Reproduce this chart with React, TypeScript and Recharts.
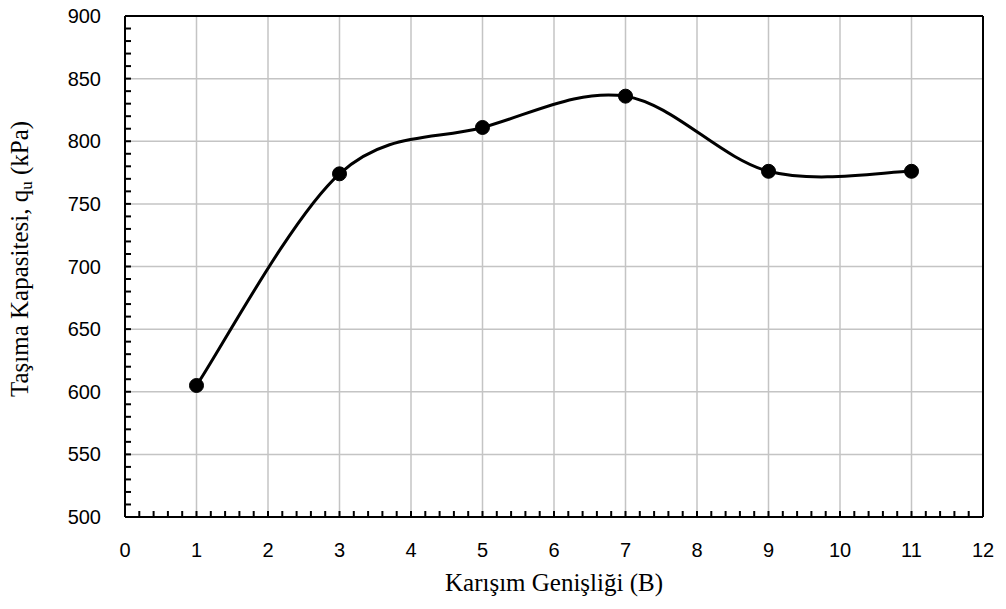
import React from 'react';
import { LineChart, Line, XAxis, YAxis, ReferenceLine } from 'recharts';

const widths = [1, 3, 5, 7, 9, 11];
const capacity = [605, 774, 811, 836, 776, 776];
const xMajor = [0, 1, 2, 3, 4, 5, 6, 7, 8, 9, 10, 11, 12];
const yMajor = [500, 550, 600, 650, 700, 750, 800, 850, 900];
const xMinor = Array.from({ length: 61 }, (_, i) => Math.round(i * 2) / 10);
const yMinor = Array.from({ length: 41 }, (_, i) => 500 + i * 10);

const data = widths.map((b, i) => ({ b, q: capacity[i] }));

const sansFont = '"Liberation Sans", Arial, sans-serif';
const serifFont = '"Liberation Serif", "Times New Roman", serif';

// Excel-like smoothed line (Catmull-Rom through every point)
const smoothCurve: any = (context: any) => {
  let pts: number[][] = [];
  return {
    areaStart() {},
    areaEnd() {},
    lineStart() {
      pts = [];
    },
    point(x: number, y: number) {
      pts.push([x, y]);
    },
    lineEnd() {
      if (!pts.length) return;
      context.moveTo(pts[0][0], pts[0][1]);
      for (let i = 0; i < pts.length - 1; i++) {
        const p0 = pts[i - 1] || pts[i];
        const p1 = pts[i];
        const p2 = pts[i + 1];
        const p3 = pts[i + 2] || pts[i + 1];
        context.bezierCurveTo(
          p1[0] + (p2[0] - p0[0]) / 6,
          p1[1] + (p2[1] - p0[1]) / 6,
          p2[0] - (p3[0] - p1[0]) / 6,
          p2[1] - (p3[1] - p1[1]) / 6,
          p2[0],
          p2[1]
        );
      }
    },
  };
};

const isMajor = (v: number, step: number) => Math.abs(v / step - Math.round(v / step)) < 1e-6;

const XTick = (props: any) => {
  const { x, y, payload } = props;
  const v = payload.value;
  return (
    <g>
      <line x1={x} y1={y} x2={x} y2={y - 6} stroke="#000" strokeWidth={2} />
      {isMajor(v, 1) && (
        <text x={x} y={y + 40} textAnchor="middle" fontFamily={sansFont} fontSize={20} fill="#000">
          {Math.round(v)}
        </text>
      )}
    </g>
  );
};

const YTick = (props: any) => {
  const { x, y, payload } = props;
  const v = payload.value;
  return (
    <g>
      <line x1={x} y1={y} x2={x + 6} y2={y} stroke="#000" strokeWidth={2} />
      {isMajor(v, 50) && (
        <text x={x - 24} y={y + 7} textAnchor="end" fontFamily={sansFont} fontSize={20} fill="#000">
          {v}
        </text>
      )}
    </g>
  );
};

const XTitle = () => (
  <text x={554} y={591} textAnchor="middle" fontFamily={serifFont} fontSize={25} fill="#000">
    Karışım Genişliği (B)
  </text>
);

const YTitle = () => (
  <text
    x={28}
    y={259}
    transform="rotate(-90 28 259)"
    textAnchor="middle"
    fontFamily={serifFont}
    fontSize={25}
    fill="#000"
  >
    Taşıma Kapasitesi, q
    <tspan fontSize={17} dy={4}>u</tspan>
    <tspan dy={-4}> (kPa)</tspan>
  </text>
);

export default function App() {
  return (
    <div style={{ position: 'absolute', left: 0, top: 0, background: '#fff' }}>
      <LineChart width={1006} height={609} data={data} margin={{ top: 16, right: 23, left: 0, bottom: 0 }}>
        {xMajor.map((v) => (
          <ReferenceLine key={'gx' + v} x={v} stroke="#c4c4c4" strokeWidth={1.5} />
        ))}
        {yMajor.map((v) => (
          <ReferenceLine key={'gy' + v} y={v} stroke="#c4c4c4" strokeWidth={1.5} />
        ))}
        <ReferenceLine y={900} stroke="#000" strokeWidth={2} />
        <ReferenceLine x={12} stroke="#000" strokeWidth={2} />
        <XAxis
          dataKey="b"
          type="number"
          domain={[0, 12]}
          ticks={xMinor}
          interval={0}
          tickSize={0}
          tickMargin={0}
          tickLine={false}
          tick={<XTick />}
          axisLine={{ stroke: '#000', strokeWidth: 2 }}
          height={92}
          label={() => <XTitle />}
        />
        <YAxis
          type="number"
          domain={[500, 900]}
          ticks={yMinor}
          interval={0}
          tickSize={0}
          tickMargin={0}
          tickLine={false}
          tick={<YTick />}
          axisLine={{ stroke: '#000', strokeWidth: 2 }}
          width={125}
          label={() => <YTitle />}
        />
        <Line
          dataKey="q"
          type={smoothCurve}
          stroke="#000"
          strokeWidth={3}
          dot={{ r: 7, fill: '#000', stroke: '#000', strokeWidth: 1 }}
          activeDot={false}
          isAnimationActive={false}
        />
      </LineChart>
    </div>
  );
}
